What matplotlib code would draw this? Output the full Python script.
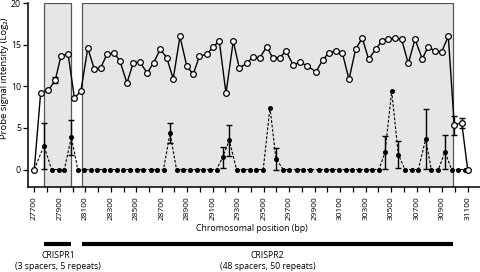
import matplotlib.pyplot as plt
import numpy as np
from matplotlib.patches import Rectangle
import matplotlib.transforms as mtransforms

plt.rcParams['font.family'] = ['Open Sans', 'DejaVu Sans']

# positions of the probes (bp) - open circles
pos_open = [27700, 27750, 27810, 27865, 27910, 27965, 28015, 28065, 28120, 28170,
            28220, 28270, 28325, 28372, 28427, 28477, 28529, 28586, 28637, 28688,
            28739, 28790, 28843, 28896, 28947, 28995, 29052, 29104, 29151, 29204,
            29261, 29308, 29366, 29413, 29470, 29523, 29570, 29627, 29674, 29732,
            29784, 29837, 29910, 29962, 30012, 30064, 30116, 30169, 30221, 30273,
            30323, 30378, 30425, 30478, 30530, 30582, 30634, 30687, 30744, 30789,
            30844, 30896, 30948, 30995, 31053, 31100]
val_open = [0, 9.2, 9.5, 10.75, 13.7, 13.9, 8.6, 9.4, 14.6, 12.1,
            12.2, 13.85, 14.05, 13.05, 10.4, 12.85, 12.9, 11.6, 12.85, 14.45,
            13.45, 10.9, 16.0, 12.45, 11.45, 13.6, 13.85, 14.7, 15.5, 9.15,
            15.45, 12.2, 12.75, 13.5, 13.45, 14.75, 13.45, 13.45, 14.25, 12.55,
            12.9, 12.5, 11.75, 13.15, 14.05, 14.25, 14.05, 10.85, 14.45, 15.8,
            13.25, 14.45, 15.4, 15.65, 15.8, 15.65, 12.75, 15.65, 13.3, 14.75,
            14.25, 14.15, 16.0, 5.3, 5.65, 0]
err_open = {3: 0.4, 63: 1.1, 64: 0.6}

# filled circles (other strand)
pos_fill = [27700, 27776, 27836, 27891, 27936, 27991, 28041, 28091, 28146, 28196,
            28246, 28296, 28351, 28398, 28453, 28503, 28555, 28612, 28663, 28714,
            28765, 28816, 28869, 28922, 28973, 29021, 29078, 29130, 29177, 29230,
            29287, 29334, 29392, 29439, 29496, 29549, 29596, 29653, 29700, 29758,
            29810, 29863, 29936, 29988, 30038, 30090, 30142, 30195, 30247, 30299,
            30349, 30404, 30451, 30504, 30556, 30608, 30660, 30713, 30770, 30815,
            30870, 30922, 30974, 31021, 31079, 31100]
peaks_fill = {1: 2.85, 5: 3.9, 20: 4.4, 28: 1.45, 29: 3.5, 35: 7.45, 36: 1.3,
              52: 2.05, 53: 9.4, 54: 1.8, 58: 3.65, 61: 2.1}
err_fill = {1: 2.8, 5: 2.1, 20: 1.2, 28: 1.3, 29: 1.9, 36: 1.3,
            52: 1.95, 54: 1.6, 58: 3.6, 61: 2.0}
val_fill = [peaks_fill.get(i, 0) for i in range(len(pos_fill))]

# CRISPR regions
regions = [(27780, 27990), (28077, 30981)]
region_names = ['CRISPR1', 'CRISPR2']
region_info = ['(3 spacers, 5 repeats)', '(48 spacers, 50 repeats)']

fig = plt.figure(figsize=(4.81, 2.72), dpi=100)
ax = fig.add_axes([0.058, 0.3125, 0.94, 0.676])

for x0, x1 in regions:
    ax.add_patch(Rectangle((x0, -2.1), x1 - x0, 22.1, facecolor='#e6e6e6',
                           edgecolor='#555555', linewidth=0.9, zorder=0))

# dashed series
ax.plot(pos_fill, val_fill, ls=(0, (2.5, 1.5)), c='black', lw=0.8,
        marker='o', ms=2.6, mfc='black', mec='black', zorder=2)
idx = list(err_fill.keys())
ax.errorbar([pos_fill[i] for i in idx], [val_fill[i] for i in idx],
            yerr=[err_fill[i] for i in idx], fmt='none', ecolor='black',
            elinewidth=1.0, capsize=2.4, capthick=1.0, zorder=2)

# solid series
ax.plot(pos_open, val_open, c='black', lw=1.0, marker='o', ms=4.1,
        mfc='white', mec='black', mew=0.9, zorder=4)
idx = list(err_open.keys())
ax.errorbar([pos_open[i] for i in idx], [val_open[i] for i in idx],
            yerr=[err_open[i] for i in idx], fmt='none', ecolor='black',
            elinewidth=1.0, capsize=2.4, capthick=1.0, zorder=3)

ax.set_xlim(27650, 31197)
ax.set_ylim(-2.1, 20)
ax.set_yticks([0, 5, 10, 15, 20])
ax.set_xticks(np.arange(27700, 31101, 100))
ax.set_xticklabels([str(t) if (t - 27700) % 200 == 0 else '' for t in range(27700, 31101, 100)],
                   rotation=90)
ax.tick_params(axis='both', direction='out', length=3.5, width=0.9, labelsize=6)
ax.tick_params(axis='y', labelsize=6.3, pad=1.5)
ax.spines['top'].set_visible(False)
ax.spines['right'].set_visible(False)
ax.spines['left'].set_linewidth(1.1)
ax.spines['bottom'].set_linewidth(1.1)
ax.set_ylabel('Probe signal intensity (Log₂)', fontsize=6.8)
ax.yaxis.set_label_coords(-0.041, 0.59)

fig.text(0.524, 0.16, 'Chromosomal position (bp)', fontsize=6.3, ha='center', va='center')

trans = mtransforms.blended_transform_factory(ax.transData, fig.transFigure)
for (x0, x1), name, info in zip(regions, region_names, region_info):
    ax.plot([x0, x1], [0.102, 0.102], c='black', lw=3, solid_capstyle='butt',
            transform=trans, clip_on=False)
    xc = (x0 + x1) / 2
    ax.text(xc, 0.06, name, fontsize=6.2, ha='center', va='center', transform=trans)
    ax.text(xc, 0.02, info, fontsize=6.2, ha='center', va='center', transform=trans)

plt.savefig('out.png', dpi=100)
